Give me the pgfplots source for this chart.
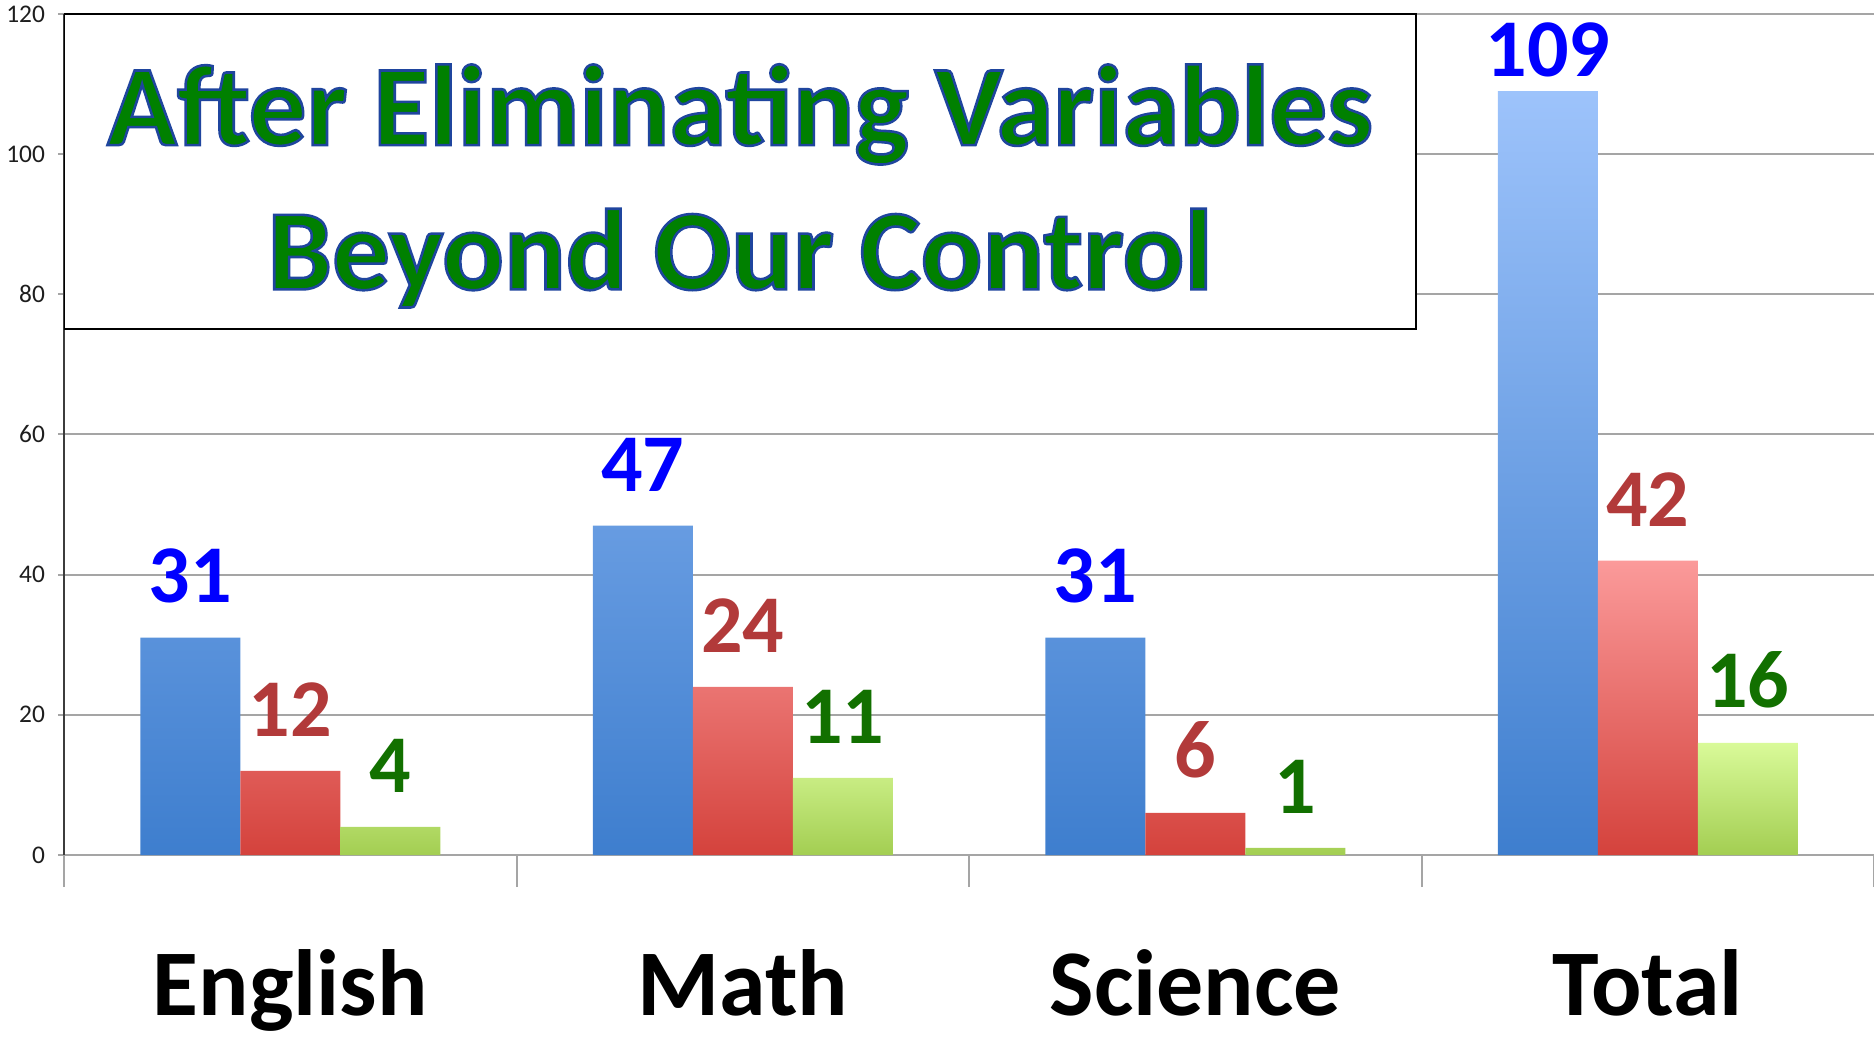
\documentclass[border=0pt]{standalone}
\usepackage{pgfplots}
\pgfplotsset{compat=1.18}
\usepackage{pgfplotstable}
\usepackage{fontspec}
\setmainfont{Carlito}

\definecolor{gridgray}{RGB}{165,165,165}
\definecolor{axisdark}{RGB}{60,60,60}
\definecolor{tickblack}{RGB}{30,30,30}
\definecolor{bluetop}{RGB}{157,195,251}
\definecolor{bluebot}{RGB}{62,126,206}
\definecolor{redtop}{RGB}{251,154,154}
\definecolor{redbot}{RGB}{212,66,60}
\definecolor{greentop}{RGB}{217,250,153}
\definecolor{greenbot}{RGB}{163,206,82}
\definecolor{valblue}{RGB}{0,0,255}
\definecolor{valred}{RGB}{178,58,58}
\definecolor{valgreen}{RGB}{18,112,0}
\definecolor{titlegreen}{RGB}{0,128,0}

\newcommand{\outlined}[1]{\special{pdf:literal direct 2 Tr 1.3 w 0.12 0.27 0.62 RG}#1\special{pdf:literal direct 0 Tr}}

\pgfplotstableread{
x y s
0 31 17
1 47 17
2 31 17
3 109 7
}\blueT
\pgfplotstableread{
x y
0 12
1 24
2 6
3 42
}\redT
\pgfplotstableread{
x y
0 4
1 11
2 1
3 16
}\greenT

\begin{document}
\begin{tikzpicture}
\begin{axis}[
  name=ax,
  scale only axis, width=905bp, height=420.5bp,
  xmin=-0.5, xmax=3.5, ymin=0, ymax=120,
  axis lines*=left,
  x axis line style={-, draw=gridgray, line width=1bp},
  y axis line style={-, draw=axisdark, line width=1bp},
  ytick={0,20,...,120},
  ymajorgrids, grid style={gridgray, line width=1bp},
  xtick={0,1,2,3}, xticklabels={English,Math,Science,Total},
  minor xtick={-0.5,0.5,1.5,2.5,3.5},
  tick align=outside,
  major tick length=3bp, minor tick length=16bp,
  tick style={gridgray, line width=1bp},
  major x tick style={draw=none},
  yticklabel style={font=\fontsize{12.7bp}{14bp}\selectfont, text=tickblack, /pgf/number format/assume math mode=true, xshift=-3bp},
  xticklabel style={font=\fontsize{47bp}{50bp}\selectfont\bfseries, text=black, anchor=base, yshift=-77bp},
  ybar=0pt, bar width=50bp,
  nodes near coords={\fontsize{41bp}{44bp}\selectfont\bfseries\pgfmathprintnumber[assume math mode=true]{\pgfplotspointmeta}},
  nodes near coords style={inner sep=0pt, anchor=south},
]
\addplot[draw=none, top color=bluetop, bottom color=bluebot,
  visualization depends on={\thisrow{s} \as \sh},
  nodes near coords style={text=valblue, yshift=\sh bp}] table[x=x,y=y] {\blueT};
\addplot[draw=none, top color=redtop, bottom color=redbot,
  nodes near coords style={text=valred, yshift=17bp}] table[x=x,y=y] {\redT};
\addplot[draw=none, top color=greentop, bottom color=greenbot,
  nodes near coords style={text=valgreen, yshift=17bp}] table[x=x,y=y] {\greenT};

\draw[black, line width=1bp, fill=white] (axis cs:-0.5,75.1) rectangle (axis cs:2.488,120);
\node[anchor=base, text=titlegreen, inner sep=0pt, font=\fontsize{57.5bp}{60bp}\selectfont\bfseries] at (axis cs:0.994,101.3) {\outlined{After Eliminating Variables}};
\node[anchor=base, text=titlegreen, inner sep=0pt, font=\fontsize{57.5bp}{60bp}\selectfont\bfseries] at (axis cs:0.994,80.7) {\outlined{Beyond Our Control}};
\end{axis}
\pgfresetboundingbox
\path[use as bounding box] ([xshift=-32bp,yshift=-92bp]ax.south west) rectangle ([yshift=7bp]ax.north east);
\end{tikzpicture}
\end{document}
